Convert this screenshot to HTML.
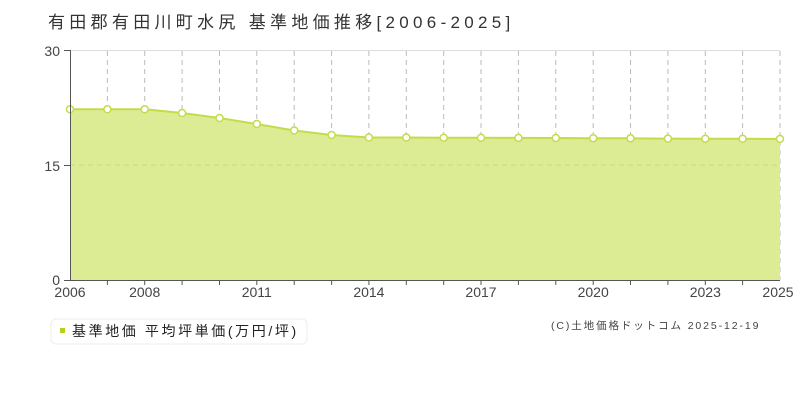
<!DOCTYPE html>
<html><head><meta charset="utf-8"><style>
body{margin:0;background:#fff;}
svg text{font-family:"Liberation Sans","Noto Sans CJK JP",sans-serif;}
</style></head><body>
<svg width="800" height="400" xmlns="http://www.w3.org/2000/svg">
<text x="48" y="28" font-size="17" fill="#333" letter-spacing="4.3">有田郡有田川町水尻 基準地価推移[2006-2025]</text>
<line x1="70" y1="50.5" x2="780" y2="50.5" stroke="#ddd" stroke-width="1"/>
<g stroke="#bbb" stroke-dasharray="5,4" stroke-width="1">
<line x1="107.4" y1="51" x2="107.4" y2="280"/><line x1="144.7" y1="51" x2="144.7" y2="280"/>
<line x1="182.1" y1="51" x2="182.1" y2="280"/><line x1="219.5" y1="51" x2="219.5" y2="280"/>
<line x1="256.8" y1="51" x2="256.8" y2="280"/><line x1="294.2" y1="51" x2="294.2" y2="280"/>
<line x1="331.6" y1="51" x2="331.6" y2="280"/><line x1="368.9" y1="51" x2="368.9" y2="280"/>
<line x1="406.3" y1="51" x2="406.3" y2="280"/><line x1="443.7" y1="51" x2="443.7" y2="280"/>
<line x1="481" y1="51" x2="481" y2="280"/><line x1="518.4" y1="51" x2="518.4" y2="280"/>
<line x1="555.8" y1="51" x2="555.8" y2="280"/><line x1="593.2" y1="51" x2="593.2" y2="280"/>
<line x1="630.5" y1="51" x2="630.5" y2="280"/><line x1="667.9" y1="51" x2="667.9" y2="280"/>
<line x1="705.3" y1="51" x2="705.3" y2="280"/><line x1="742.6" y1="51" x2="742.6" y2="280"/>
<line x1="780" y1="51" x2="780" y2="280"/>
</g>
<polygon fill="#dbec95" points="70,280 70,109.3 107.4,109.3 144.7,109.3 182.1,113 219.5,118 256.8,124 294.2,130.5 331.6,135 368.9,137.5 406.3,137.5 443.7,137.7 481,137.8 518.4,137.9 555.8,138 593.2,138.2 630.5,138.3 667.9,138.6 705.3,138.7 742.6,138.8 780,138.9 780,280"/>
<line x1="70" y1="165" x2="780" y2="165" stroke="#c8d890" stroke-dasharray="5,4"/>
<polyline fill="none" stroke="#c3dc4a" stroke-width="2" points="70,109.3 107.4,109.3 144.7,109.3 182.1,113 219.5,118 256.8,124 294.2,130.5 331.6,135 368.9,137.5 406.3,137.5 443.7,137.7 481,137.8 518.4,137.9 555.8,138 593.2,138.2 630.5,138.3 667.9,138.6 705.3,138.7 742.6,138.8 780,138.9"/>
<g fill="#fff" stroke="#c3dc4a" stroke-width="1.5">
<circle cx="70" cy="109.3" r="3.5"/><circle cx="107.4" cy="109.3" r="3.5"/><circle cx="144.7" cy="109.3" r="3.5"/>
<circle cx="182.1" cy="113" r="3.5"/><circle cx="219.5" cy="118" r="3.5"/><circle cx="256.8" cy="124" r="3.5"/>
<circle cx="294.2" cy="130.5" r="3.5"/><circle cx="331.6" cy="135" r="3.5"/><circle cx="368.9" cy="137.5" r="3.5"/>
<circle cx="406.3" cy="137.5" r="3.5"/><circle cx="443.7" cy="137.7" r="3.5"/><circle cx="481" cy="137.8" r="3.5"/>
<circle cx="518.4" cy="137.9" r="3.5"/><circle cx="555.8" cy="138" r="3.5"/><circle cx="593.2" cy="138.2" r="3.5"/>
<circle cx="630.5" cy="138.3" r="3.5"/><circle cx="667.9" cy="138.6" r="3.5"/><circle cx="705.3" cy="138.7" r="3.5"/>
<circle cx="742.6" cy="138.8" r="3.5"/><circle cx="780" cy="138.9" r="3.5"/>
</g>
<line x1="70.5" y1="50" x2="70.5" y2="280" stroke="#555"/>
<line x1="64" y1="50.5" x2="70" y2="50.5" stroke="#555"/>
<line x1="64" y1="165.5" x2="70" y2="165.5" stroke="#555"/>
<line x1="64" y1="280.5" x2="780" y2="280.5" stroke="#555"/>
<g stroke="#555">
<line x1="107.4" y1="280" x2="107.4" y2="285"/><line x1="144.7" y1="280" x2="144.7" y2="285"/>
<line x1="182.1" y1="280" x2="182.1" y2="285"/><line x1="219.5" y1="280" x2="219.5" y2="285"/>
<line x1="256.8" y1="280" x2="256.8" y2="285"/><line x1="294.2" y1="280" x2="294.2" y2="285"/>
<line x1="331.6" y1="280" x2="331.6" y2="285"/><line x1="368.9" y1="280" x2="368.9" y2="285"/>
<line x1="406.3" y1="280" x2="406.3" y2="285"/><line x1="443.7" y1="280" x2="443.7" y2="285"/>
<line x1="481" y1="280" x2="481" y2="285"/><line x1="518.4" y1="280" x2="518.4" y2="285"/>
<line x1="555.8" y1="280" x2="555.8" y2="285"/><line x1="593.2" y1="280" x2="593.2" y2="285"/>
<line x1="630.5" y1="280" x2="630.5" y2="285"/><line x1="667.9" y1="280" x2="667.9" y2="285"/>
<line x1="705.3" y1="280" x2="705.3" y2="285"/><line x1="742.6" y1="280" x2="742.6" y2="285"/>
</g>
<g font-size="14" fill="#444" text-anchor="end">
<text x="60" y="56">30</text><text x="60" y="171">15</text><text x="60" y="285">0</text>
</g>
<g font-size="14" fill="#444" text-anchor="middle">
<text x="70" y="297">2006</text><text x="144.7" y="297">2008</text><text x="256.8" y="297">2011</text>
<text x="368.9" y="297">2014</text><text x="481" y="297">2017</text><text x="593.2" y="297">2020</text>
<text x="705.3" y="297">2023</text><text x="778" y="297">2025</text>
</g>
<rect x="51" y="319" width="256" height="25" rx="5" fill="#fff" stroke="#eee"/>
<rect x="60" y="328" width="5" height="5" fill="#b5d11e"/>
<text x="72" y="336" font-size="14" fill="#222" letter-spacing="2.6">基準地価 平均坪単価(万円/坪)</text>
<text x="551" y="329" font-size="10.5" fill="#444" letter-spacing="1.9">(C)土地価格ドットコム 2025-12-19</text>
</svg>
</body></html>
